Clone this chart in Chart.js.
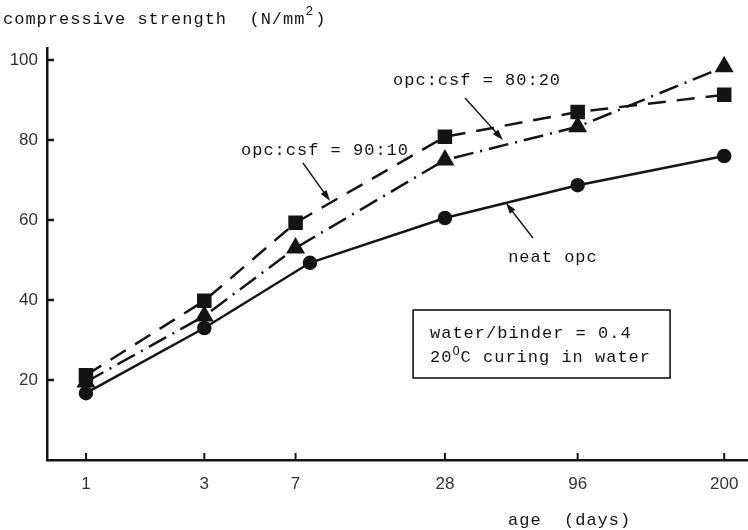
<!DOCTYPE html>
<html>
<head>
<meta charset="utf-8">
<script src="https://cdn.jsdelivr.net/npm/chart.js@4.4.0/dist/chart.umd.min.js"></script>
<style>
  html, body { margin: 0; padding: 0; background: #fff; }
  #wrap { width: 748px; height: 530px; }
</style>
</head>
<body>
<div id="wrap"><canvas id="strength" width="748" height="530"></canvas></div>
<script>
// ages (days) on the axis, and the ages each series was tested at
var ageTicks = [1, 3, 7, 28, 96, 200];
var neatAge = [1, 3, 8, 28, 96, 200];
var blendAge = [1, 3, 7, 28, 96, 200];

// compressive strength, N/mm2
var neatOpc = [16.7, 33, 49.3, 60.5, 68.7, 76];
var csf90 = [21.2, 39.8, 59.3, 80.8, 87, 91.3];
var csf80 = [19.5, 36, 53, 75, 83.3, 98.3];

var strengthTicks = [20, 40, 60, 80, 100];

// x axis runs in log(days) up to 96, the 200 day tick sits after a break
var BREAK_POS = 2.573;
function agePos(d) { return d > 100 ? BREAK_POS : Math.log10(d); }

function points(ages, vals) {
  return vals.map(function (v, i) { return { x: agePos(ages[i]), y: v }; });
}

var MONO = '"Liberation Mono", "DejaVu Sans Mono", monospace';
var SANS = '"Liberation Sans", Arial, sans-serif';
var INK = '#141414';

function mono(ctx, str, x, y, size) {
  ctx.font = (size || 17) + 'px ' + MONO;
  ctx.letterSpacing = '1px';
  ctx.fillText(str, x, y);
  return x + ctx.measureText(str).width;
}

function arrow(ctx, x1, y1, x2, y2) {
  var a = Math.atan2(y2 - y1, x2 - x1);
  ctx.lineWidth = 1.4;
  ctx.beginPath();
  ctx.moveTo(x1, y1);
  ctx.lineTo(x2 - 6 * Math.cos(a), y2 - 6 * Math.sin(a));
  ctx.stroke();
  ctx.beginPath();
  ctx.moveTo(x2, y2);
  ctx.lineTo(x2 - 11 * Math.cos(a) + 3.5 * Math.sin(a), y2 - 11 * Math.sin(a) - 3.5 * Math.cos(a));
  ctx.lineTo(x2 - 11 * Math.cos(a) - 3.5 * Math.sin(a), y2 - 11 * Math.sin(a) + 3.5 * Math.cos(a));
  ctx.closePath();
  ctx.fill();
}

var decor = {
  id: 'decor',
  afterDraw: function (chart) {
    var ctx = chart.ctx;
    var xs = chart.scales.x, ys = chart.scales.y;
    var area = chart.chartArea;
    function px(p) { return xs.getPixelForValue(p); }
    function py(v) { return ys.getPixelForValue(v); }

    ctx.save();
    ctx.strokeStyle = INK;
    ctx.fillStyle = INK;
    ctx.lineCap = 'butt';

    // tick marks point into the plot
    ctx.lineWidth = 2.5;
    strengthTicks.forEach(function (v) {
      ctx.beginPath();
      ctx.moveTo(area.left, py(v));
      ctx.lineTo(area.left + 7, py(v));
      ctx.stroke();
    });
    ctx.lineWidth = 2;
    ageTicks.forEach(function (a) {
      ctx.beginPath();
      ctx.moveTo(px(agePos(a)), area.bottom);
      ctx.lineTo(px(agePos(a)), area.bottom - 7);
      ctx.stroke();
    });

    ctx.textBaseline = 'middle';
    ctx.textAlign = 'left';

    // axis names
    var end = mono(ctx, 'compressive strength  (N/mm', 3, 19);
    end = mono(ctx, '2', end, 12, 13);
    mono(ctx, ')', end + 1, 19);
    mono(ctx, 'age  (days)', 508, 520);

    // series labels with leader arrows
    mono(ctx, 'opc:csf = 90:10', px(0.625), py(77.5));
    arrow(ctx, px(0.875), py(74.25), px(0.984), py(64.75));
    mono(ctx, 'opc:csf = 80:20', px(1.238), py(95));
    arrow(ctx, px(1.528), py(90.5), px(1.681), py(80));
    mono(ctx, 'neat opc', px(1.702), py(50.75));
    arrow(ctx, px(1.802), py(55.5), px(1.693), py(64.25));

    // test conditions box
    ctx.lineWidth = 1.6;
    ctx.strokeRect(px(1.319), py(37.5), px(2.355) - px(1.319), py(20.5) - py(37.5));
    mono(ctx, 'water/binder = 0.4', px(1.387), py(31.75));
    end = mono(ctx, '20', px(1.387), py(25.75));
    end = mono(ctx, 'O', end, py(25.75) - 5, 12);
    mono(ctx, 'C curing in water', end, py(25.75));
    ctx.restore();
  }
};

new Chart(document.getElementById('strength'), {
  type: 'line',
  data: {
    datasets: [
      {
        label: 'neat opc',
        data: points(neatAge, neatOpc),
        borderColor: INK,
        backgroundColor: INK,
        borderWidth: 2.5,
        pointStyle: 'circle',
        pointRadius: 6
      },
      {
        label: 'opc:csf = 90:10',
        data: points(blendAge, csf90),
        borderColor: INK,
        backgroundColor: INK,
        borderWidth: 2.5,
        borderDash: [18, 11],
        pointStyle: 'rect',
        pointRadius: 8.5
      },
      {
        label: 'opc:csf = 80:20',
        data: points(blendAge, csf80),
        borderColor: INK,
        backgroundColor: INK,
        borderWidth: 2.5,
        borderDash: [20, 7, 2, 7],
        pointStyle: 'triangle',
        pointRadius: 8.5
      }
    ]
  },
  options: {
    responsive: false,
    animation: false,
    devicePixelRatio: 1,
    layout: { autoPadding: false, padding: { top: 48, right: 0, bottom: 0, left: 0 } },
    plugins: {
      legend: { display: false },
      tooltip: { enabled: false }
    },
    scales: {
      x: {
        type: 'linear',
        min: -0.157,
        max: 2.669,
        afterBuildTicks: function (s) {
          s.ticks = ageTicks.map(function (a) { return { value: agePos(a) }; });
        },
        afterFit: function (s) {
          s.height = 70;
          s.paddingLeft = 0;
          s.paddingRight = 0;
        },
        grid: { display: false, drawTicks: false },
        border: { display: true, color: INK, width: 2.5 },
        ticks: {
          padding: 14,
          color: '#333',
          autoSkip: false,
          maxRotation: 0,
          font: { family: SANS, size: 17 },
          callback: function (v, i) { return String(ageTicks[i]); }
        }
      },
      y: {
        min: 0,
        max: 103,
        afterBuildTicks: function (s) {
          s.ticks = strengthTicks.map(function (v) { return { value: v }; });
        },
        afterFit: function (s) {
          s.width = 47;
          s.paddingTop = 0;
          s.paddingBottom = 0;
        },
        grid: { display: false, drawTicks: false },
        border: { display: true, color: INK, width: 2.5 },
        ticks: {
          padding: 9,
          color: '#333',
          font: { family: SANS, size: 17 }
        }
      }
    }
  },
  plugins: [decor]
});
</script>
</body>
</html>
